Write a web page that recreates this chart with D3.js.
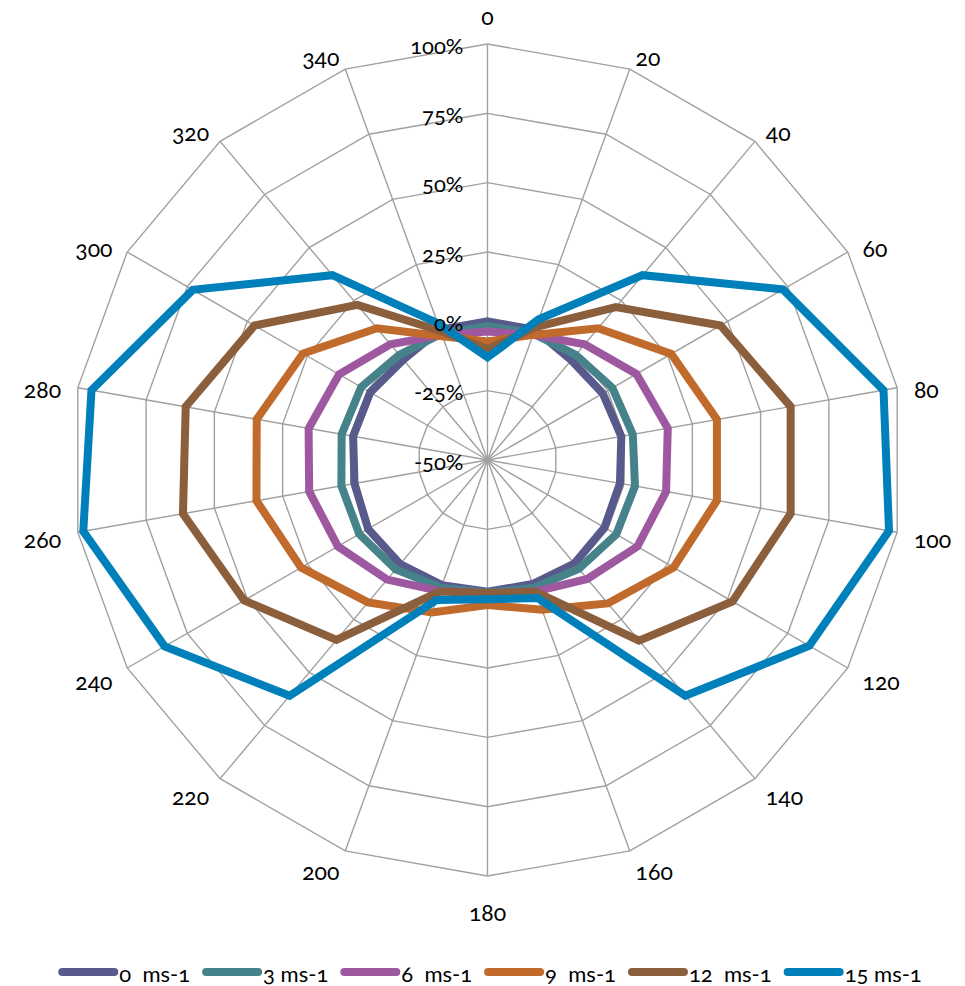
<!DOCTYPE html>
<html><head><meta charset="utf-8">
<script src="https://cdn.jsdelivr.net/npm/d3@7/dist/d3.min.js"></script>
<style>
body{margin:0;background:#fff}
text{font-family:Lato,"Open Sans",sans-serif;font-feature-settings:"onum" 1;font-variant-numeric:oldstyle-nums;fill:#000}
</style>
</head><body>
<svg id="chart" width="965" height="986"></svg>
<script>
// ---- data ----
const categories = ["0","20","40","60","80","100","120","140","160","180","200","220","240","260","280","300","320","340"];
const seriesNames = ["0  ms-1","3 ms-1","6  ms-1","9  ms-1","12  ms-1","15 ms-1"];
const s0ms  = [0, 0, -3, -2, -1, -1.5, -1.3, -1.3, -2.4, -2.5, -2, -1, -0.3, -1.3, -0.8, -1.2, -2.8, 0];
const s3ms  = [-1.7, -1.5, -0.5, 2, 3.2, 4, 3.6, 1.2, -1, -2.2, -1, 1.5, 3.4, 3.5, 3.4, 2.6, -0.5, -1.5];
const s6ms  = [-3.7, -2, 4.5, 12, 16, 15.4, 12.4, 6, 0.5, -2, 0.3, 6.3, 12.3, 15.3, 15.5, 11.8, 4.5, -2];
const s9ms  = [-7.3, -2, 12, 26.5, 34, 34, 27.5, 17.5, 7.5, 2.3, 8.5, 17, 27.6, 34.6, 34.5, 26.8, 12, -2.5];
const s12ms = [-10, 1, 22, 47, 61, 61, 52, 35, 0.6, -2, 0.5, 34.7, 51.3, 61.5, 60.5, 47, 23, -0.5];
const s15ms = [-13, 4, 37, 73, 95, 97, 84, 61, 3, 0.2, 3.7, 61, 84.4, 98, 95, 72.7, 37, 2.5];
const tickValues = [-50, -25, 0, 25, 50, 75, 100];
const tickLabels = ["-50%","-25%","0%","25%","50%","75%","100%"];
const seriesColors = ["#585a8c","#46828a","#9e58a0","#c06a2b","#8b5e3c","#0080ba"];

const series = [s0ms, s3ms, s6ms, s9ms, s12ms, s15ms];

// ---- layout ----
const cx = 487.5, cy = 460, R = 416;
const svg = d3.select("#chart");
const g = svg.append("g").attr("transform", `translate(${cx},${cy})`);

const r = d3.scaleLinear().domain([-50, 100]).range([0, R]);
const a = d3.scaleLinear().domain([0, categories.length]).range([0, 2 * Math.PI]);

// grid rings
const ringLine = d3.lineRadial().curve(d3.curveLinearClosed);
tickValues.filter(v => v > -50).forEach(v => {
  g.append("path")
    .attr("d", ringLine(categories.map((c, i) => [a(i), r(v)])))
    .attr("fill", "none").attr("stroke", "#a0a0a0").attr("stroke-width", 1.4);
});
// spokes
categories.forEach((c, i) => {
  const ang = a(i);
  g.append("line")
    .attr("x1", 0).attr("y1", 0)
    .attr("x2", R * Math.sin(ang)).attr("y2", -R * Math.cos(ang))
    .attr("stroke", "#a0a0a0").attr("stroke-width", 1.4);
});

// series
const line = d3.lineRadial()
  .angle((d, i) => a(i))
  .radius(d => r(d))
  .curve(d3.curveLinearClosed);
series.forEach((s, k) => {
  g.append("path")
    .attr("d", line(s))
    .attr("fill", "none")
    .attr("stroke", seriesColors[k])
    .attr("stroke-width", 8)
    .attr("stroke-linejoin", "miter");
});

// radial tick labels
tickValues.forEach((v, i) => {
  g.append("text")
    .attr("x", -24).attr("y", -r(v) + 1)
    .attr("text-anchor", "end")
    .attr("dominant-baseline", "central")
    .attr("font-size", 22)
    .text(tickLabels[i]);
});

// category labels
categories.forEach((c, i) => {
  const ang = a(i);
  const s = Math.sin(ang), co = Math.cos(ang);
  const rr = R + 17;
  let px = rr * s, py = -rr * co + 4;
  let anchor = "middle";
  if (s > 0.01) anchor = "start";
  else if (s < -0.01) anchor = "end";
  else py += -co * 15;
  g.append("text")
    .attr("x", px).attr("y", py)
    .attr("text-anchor", anchor)
    .attr("dominant-baseline", "central")
    .attr("font-size", 23)
    .text(c);
});

// legend
const lg = svg.append("g");
let x = 0;
const ly = 972;
seriesNames.forEach((n, k) => {
  lg.append("line")
    .attr("x1", x + 4).attr("x2", x + 56).attr("y1", ly).attr("y2", ly)
    .attr("stroke", seriesColors[k]).attr("stroke-width", 8).attr("stroke-linecap", "round");
  const t = lg.append("text")
    .attr("x", x + 61).attr("y", ly + 1)
    .attr("dominant-baseline", "central")
    .attr("font-size", 22)
    .style("white-space", "pre")
    .text(n);
  x += 61 + t.node().getComputedTextLength() + 12;
});
const total = x - 12;
lg.attr("transform", `translate(${490 - total / 2},0)`);
</script>
</body></html>
